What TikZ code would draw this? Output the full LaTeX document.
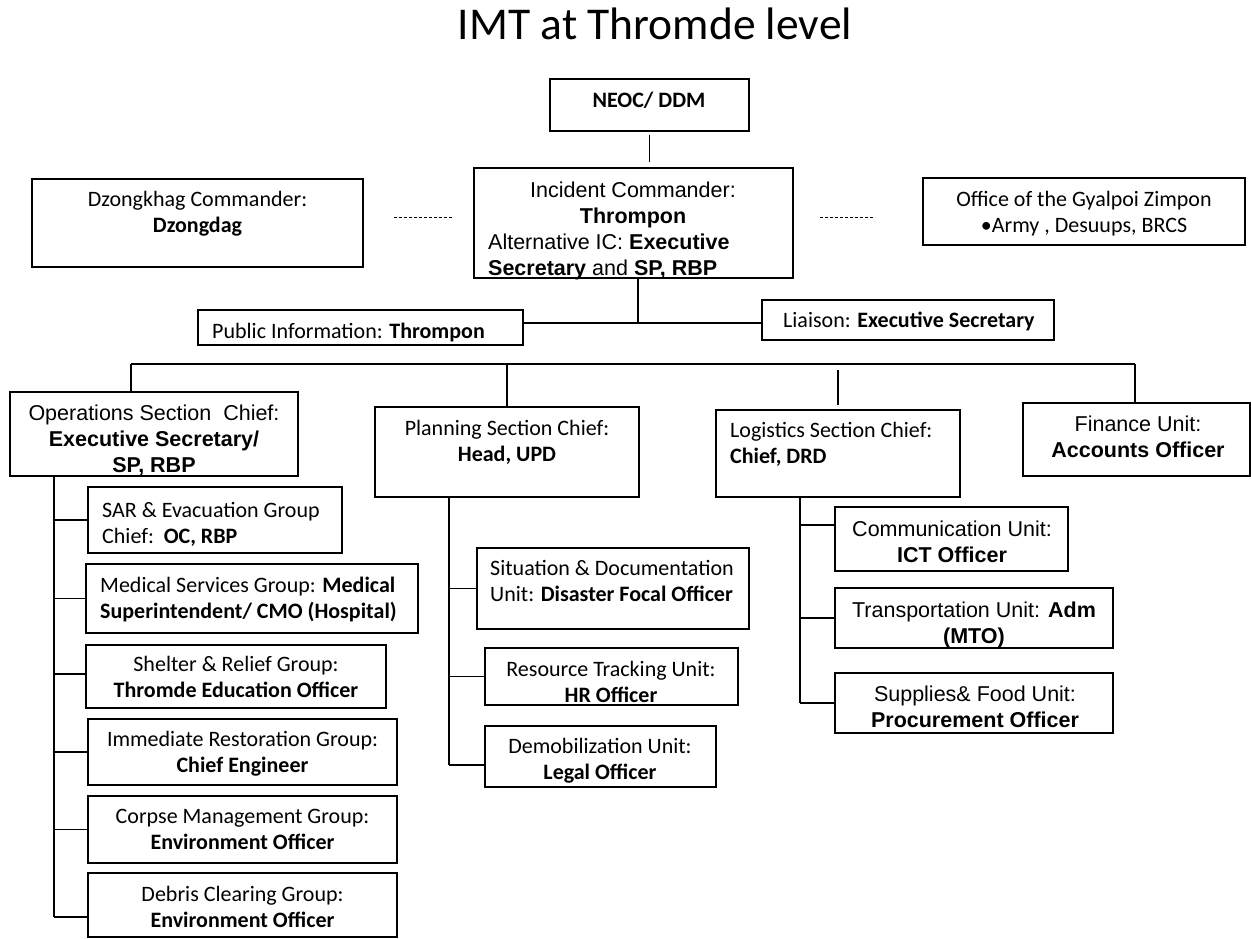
\documentclass[tikz,border=0pt]{standalone}
\usepackage{fontspec}
\newfontfamily\calfont{Carlito}
\newfontfamily\arifont{Liberation Sans}
\begin{document}
\begin{tikzpicture}[x=1pt,y=-1pt,
  box/.style={draw=black, line width=1.8pt, inner sep=0pt, outer sep=0pt},
  ln/.style={line width=1.8pt},
  dsh/.style={line width=0.9pt, dash pattern=on 3pt off 2pt},
  ctx/.style={font=\calfont\fontsize{22}{26}\selectfont, align=center, anchor=base, inner sep=0pt},
  clx/.style={font=\calfont\fontsize{22}{26}\selectfont, align=left, anchor=base west, inner sep=0pt},
  atx/.style={font=\arifont\fontsize{21.5}{26}\selectfont, align=center, anchor=base, inner sep=0pt},
  alx/.style={font=\arifont\fontsize{21.5}{26}\selectfont, align=left, anchor=base west, inner sep=0pt}]
\useasboundingbox[fill=white] (0,0) rectangle (1251,939);

% title
\node[font=\calfont\fontsize{45.5}{52}\selectfont, anchor=base, inner sep=0pt] (title) at (655,40) {IMT at Thromde level};

% boxes
\node[box, minimum width=199pt, minimum height=52pt] (neoc) at (649.5,105) {};
\node[box, minimum width=331pt, minimum height=88pt] (dz) at (197.5,223) {};
\node[box, minimum width=319pt, minimum height=110pt] (ic) at (633.5,223) {};
\node[box, minimum width=322pt, minimum height=67pt] (off) at (1084,211.5) {};
\node[box, minimum width=325pt, minimum height=35pt] (pub) at (360.5,327.5) {};
\node[box, minimum width=292pt, minimum height=40pt] (lia) at (908,320) {};
\node[box, minimum width=288pt, minimum height=84pt] (ops) at (154,434) {};
\node[box, minimum width=264pt, minimum height=90pt] (pln) at (507,452) {};
\node[box, minimum width=244pt, minimum height=87pt] (log) at (838,453.5) {};
\node[box, minimum width=227pt, minimum height=73pt] (fin) at (1136.5,439.5) {};
\node[box, minimum width=254pt, minimum height=66pt] (sar) at (215,520) {};
\node[box, minimum width=332pt, minimum height=69pt] (med) at (252,598.5) {};
\node[box, minimum width=300pt, minimum height=63pt] (shl) at (236,676.5) {};
\node[box, minimum width=309pt, minimum height=66pt] (imm) at (242.5,752) {};
\node[box, minimum width=309pt, minimum height=67pt] (crp) at (242.5,829.5) {};
\node[box, minimum width=309pt, minimum height=64pt] (deb) at (242.5,905) {};
\node[box, minimum width=272pt, minimum height=81pt] (sit) at (613,588.5) {};
\node[box, minimum width=253pt, minimum height=57pt] (res) at (611.5,676.5) {};
\node[box, minimum width=231pt, minimum height=61pt] (dem) at (600.5,756.5) {};
\node[box, minimum width=233pt, minimum height=64pt] (com) at (951.5,539) {};
\node[box, minimum width=278pt, minimum height=60pt] (trn) at (974,618) {};
\node[box, minimum width=278pt, minimum height=60pt] (sup) at (974,703) {};

% texts (anchor = baseline of the last line)
\node[ctx] (tneoc) at (649,108) {\bfseries NEOC/ DDM};
\node[ctx] (tdz) at (197.5,233) {Dzongkhag Commander:\\\textbf{Dzongdag}};
\node[atx] (tic1) at (633,223) {Incident Commander:\\\textbf{Thrompon}};
\node[alx] (tic2) at (488,275) {Alternative IC: \textbf{Executive}\\\textbf{Secretary} and \textbf{SP, RBP}};
\node[ctx] (toff) at (1084,232) {Office of the Gyalpoi Zimpon\\•Army , Desuups, BRCS};
\node[clx] (tpub) at (212,338) {Public Information: \textbf{Thrompon}};
\node[clx] (tlia) at (783,327) {Liaison: \textbf{Executive Secretary}};
\node[atx] (tops) at (154,472) {Operations Section\ \ Chief:\\\textbf{Executive Secretary/}\\\textbf{SP, RBP}};
\node[ctx] (tpln) at (507,461) {Planning Section Chief:\\\textbf{Head, UPD}};
\node[clx] (tlog) at (730,463) {Logistics Section Chief:\\\textbf{Chief, DRD}};
\node[atx] (tfin) at (1138,457) {Finance Unit:\\\textbf{Accounts Officer}};
\node[clx] (tsar) at (102,543) {SAR \& Evacuation Group\\Chief:\ \ \textbf{OC, RBP}};
\node[clx] (tmed) at (100,618) {Medical Services Group: \textbf{Medical}\\\textbf{Superintendent/ CMO (Hospital)}};
\node[ctx] (tshl) at (236,697) {Shelter \& Relief Group:\\\textbf{Thromde Education Officer}};
\node[ctx] (timm) at (242.5,772) {Immediate Restoration Group:\\\textbf{Chief Engineer}};
\node[ctx] (tcrp) at (242.5,849) {Corpse Management Group:\\\textbf{Environment Officer}};
\node[ctx] (tdeb) at (242.5,927) {Debris Clearing Group:\\\textbf{Environment Officer}};
\node[clx] (tsit) at (490,601) {Situation \& Documentation\\Unit: \textbf{Disaster Focal Officer}};
\node[ctx] (tres) at (611,702) {Resource Tracking Unit:\\\textbf{HR Officer}};
\node[ctx] (tdem) at (600,779) {Demobilization Unit:\\\textbf{Legal Officer}};
\node[atx] (tcom) at (952,562) {Communication Unit:\\\textbf{ICT Officer}};
\node[atx] (ttrn) at (974,643) {Transportation Unit: \textbf{Adm}\\\textbf{(MTO)}};
\node[atx] (tsup) at (975,727) {Supplies\& Food Unit:\\\textbf{Procurement Officer}};

% connectors
\draw[ln, shorten <=4pt, shorten >=6pt] (neoc.south) -- (neoc.south |- ic.north);
\draw[dsh, shorten <=31pt, shorten >=20pt] (dz.east |- 0,217) -- (ic.west |- 0,217);
\draw[dsh, shorten <=27pt, shorten >=48pt] (ic.east |- 0,217) -- (off.west |- 0,217);
\coordinate (icb) at (638,323);
\draw[ln] (ic.south -| icb) -- (icb);
\draw[ln] (pub.east |- icb) -- (lia.west |- icb);

\coordinate (busL) at (131,364);
\coordinate (busR) at (1135,364);
\draw[ln] (busL) -- (busR);
\draw[ln] (busL) -- (ops.north -| busL);
\draw[ln] (pln.north |- busL) -- (pln.north);
\draw[ln, shorten <=6pt, shorten >=5pt] (log.north |- busL) -- (log.north);
\draw[ln] (busR) -- (fin.north -| busR);

\coordinate (ov) at (54,917);
\draw[ln] (ops.south -| ov) -- (ov);
\draw[ln] (sar.west -| ov) -- (sar.west);
\draw[ln] (med.west -| ov) -- (med.west);
\draw[ln] (ov |- 0,674) -- (shl.west |- 0,674);
\draw[ln] (imm.west -| ov) -- (imm.west);
\draw[ln] (crp.west -| ov) -- (crp.west);
\draw[ln] (ov) -- (ov -| deb.west);

\coordinate (pv) at (449,765);
\draw[ln] (pln.south -| pv) -- (pv);
\draw[ln] (sit.west -| pv) -- (sit.west);
\draw[ln] (res.west -| pv) -- (res.west);
\draw[ln] (pv) -- (pv -| dem.west);

\coordinate (lv) at (800,703);
\draw[ln] (log.south -| lv) -- (lv);
\draw[ln] (lv |- 0,525) -- (com.west |- 0,525);
\draw[ln] (trn.west -| lv) -- (trn.west);
\draw[ln] (lv) -- (lv -| sup.west);
\end{tikzpicture}
\end{document}
